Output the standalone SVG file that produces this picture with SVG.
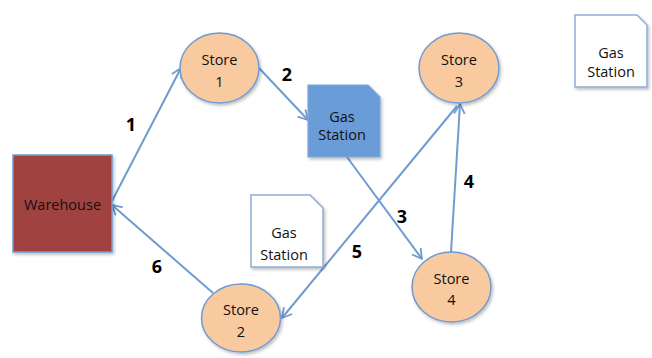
<svg xmlns="http://www.w3.org/2000/svg" width="652" height="358" viewBox="0 0 652 358">
<defs>
<filter id="sh" x="-20%" y="-20%" width="150%" height="150%">
<feDropShadow dx="1.5" dy="2" stdDeviation="1.5" flood-color="#000" flood-opacity="0.25"/>
</filter>
<marker id="arr" markerWidth="14" markerHeight="14" refX="10" refY="6" orient="auto" markerUnits="userSpaceOnUse">
<path d="M1,1 L10,6 L1,11" fill="none" stroke="#6f9bd1" stroke-width="1.8" stroke-linecap="round" stroke-linejoin="round"/>
</marker>
<style>
.store{fill:#f9c9a0;stroke:#6f9bd1;stroke-width:1.5}
.lbl{font-family:"Open Sans","Liberation Sans",sans-serif;font-size:14.5px;fill:#111;text-anchor:middle}
.num{font-family:"Open Sans","Liberation Sans",sans-serif;font-size:18px;font-weight:bold;fill:#000;text-anchor:middle}
.conn{fill:none;stroke:#6f9bd1;stroke-width:2;marker-end:url(#arr)}
.gsw{fill:#fff;stroke:#8eaed8;stroke-width:1.5}
</style>
</defs>
<rect width="652" height="358" fill="#fff"/>
<g id="connectors">
<line class="conn" x1="112" y1="201" x2="181" y2="68"/>
<line class="conn" x1="259" y1="68" x2="308" y2="120"/>
<line class="conn" x1="347" y1="157" x2="422" y2="259"/>
<line class="conn" x1="451" y1="252" x2="460" y2="104"/>
<line class="conn" x1="457" y1="106" x2="282" y2="318"/>
<line class="conn" x1="213" y1="293" x2="112" y2="205"/>
</g>
<g id="labels">
<text class="num" x="131" y="131">1</text>
<text class="num" x="287" y="81">2</text>
<text class="num" x="402" y="223">3</text>
<text class="num" x="469" y="188">4</text>
<text class="num" x="357" y="258">5</text>
<text class="num" x="157" y="273">6</text>
</g>
<g id="warehouse">
<rect x="13" y="155" width="99" height="97" fill="#a0433f" stroke="#6f9bd1" stroke-width="1.5" filter="url(#sh)"/>
<text class="lbl" x="62.5" y="210">Warehouse</text>
</g>
<g id="store1">
<ellipse class="store" cx="219.5" cy="68" rx="39.5" ry="35" filter="url(#sh)"/>
<text class="lbl" x="219.5" y="65">Store</text>
<text class="lbl" x="219.5" y="87">1</text>
</g>
<g id="store2">
<ellipse class="store" cx="241" cy="318" rx="39.5" ry="34" filter="url(#sh)"/>
<text class="lbl" x="241" y="315">Store</text>
<text class="lbl" x="241" y="337">2</text>
</g>
<g id="store3">
<ellipse class="store" cx="459" cy="68" rx="40" ry="35" filter="url(#sh)"/>
<text class="lbl" x="459" y="65">Store</text>
<text class="lbl" x="459" y="87">3</text>
</g>
<g id="store4">
<ellipse class="store" cx="451.5" cy="287" rx="39.5" ry="35" filter="url(#sh)"/>
<text class="lbl" x="451.5" y="284">Store</text>
<text class="lbl" x="451.5" y="305">4</text>
</g>
<g id="gas-station-blue">
<path d="M308,85 L368,85 L380,97 L380,157 L308,157 Z" fill="#6b9cd7" stroke="#7ea7db" stroke-width="1.2" filter="url(#sh)"/>
<text class="lbl" x="342" y="122">Gas</text>
<text class="lbl" x="342" y="140">Station</text>
</g>
<g id="gas-station-mid">
<path class="gsw" d="M251,195 L310,195 L323,208 L323,267 L251,267 Z" filter="url(#sh)"/>
<text class="lbl" x="284" y="238">Gas</text>
<text class="lbl" x="284" y="260">Station</text>
</g>
<g id="gas-station-top">
<path class="gsw" d="M575,15 L637,15 L647,25 L647,87 L575,87 Z" filter="url(#sh)"/>
<text class="lbl" x="611" y="58">Gas</text>
<text class="lbl" x="611" y="77">Station</text>
</g>
</svg>
